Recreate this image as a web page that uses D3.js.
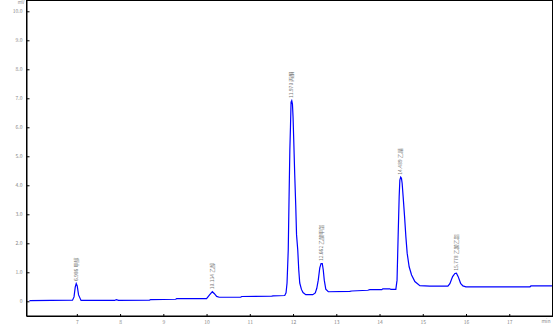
<!DOCTYPE html>
<html>
<head>
<meta charset="utf-8">
<script src="https://cdn.jsdelivr.net/npm/d3@7"></script>
<style>
  body { margin: 0; background: #fff; }
  text { font-family: "Noto Sans CJK SC", "DejaVu Sans", sans-serif; }
</style>
</head>
<body>
<svg width="555" height="328"></svg>
<script>
// retention time (min) and detector signal
const times = [5.905, 6.90, 6.935, 6.963, 6.986, 7.009, 7.04, 7.097, 7.873, 7.912, 7.965,
  8.683, 8.706, 9.285, 9.308, 10.0, 10.069, 10.134, 10.176, 10.234, 10.292, 10.789, 10.812,
  11.507, 11.542, 11.808, 11.838, 11.861, 11.889, 11.907, 11.926, 11.940, 11.954, 11.970,
  11.986, 12.0, 12.016, 12.039, 12.062, 12.081, 12.109, 12.132, 12.155, 12.194, 12.231,
  12.294, 12.456, 12.514, 12.549, 12.583, 12.618, 12.648, 12.676, 12.699, 12.722, 12.757,
  12.815, 13.313, 13.359, 13.729, 13.775, 14.053, 14.076, 14.238, 14.262, 14.377, 14.405,
  14.431, 14.454, 14.470, 14.489, 14.507, 14.523, 14.546, 14.579, 14.609, 14.639, 14.685,
  14.741, 14.817, 14.933, 15.164, 15.581, 15.627, 15.690, 15.743, 15.778, 15.819, 15.875,
  15.928, 15.998, 17.479, 17.502, 17.988];
const signal = [0.02, 0.04, 0.15, 0.49, 0.61, 0.53, 0.22, 0.03, 0.03, 0.055, 0.03,
  0.04, 0.06, 0.07, 0.09, 0.09, 0.22, 0.33, 0.27, 0.17, 0.14, 0.14, 0.165,
  0.18, 0.19, 0.20, 0.29, 0.63, 1.77, 3.49, 5.22, 5.98, 6.87, 6.92,
  6.80, 6.36, 5.56, 4.36, 3.32, 2.29, 1.77, 1.08, 0.63, 0.41, 0.30,
  0.23, 0.23, 0.29, 0.45, 0.73, 1.15, 1.30, 1.30, 1.08, 0.73, 0.42,
  0.33, 0.34, 0.355, 0.38, 0.40, 0.40, 0.43, 0.43, 0.41, 0.41, 0.73,
  2.29, 3.60, 4.18, 4.28, 4.24, 4.07, 3.61, 2.92, 2.23, 1.66, 1.19,
  0.91, 0.68, 0.54, 0.52, 0.52, 0.61, 0.85, 0.96, 0.97, 0.85, 0.62,
  0.53, 0.50, 0.50, 0.53, 0.53];

const peakTimes = [6.986, 10.134, 11.970, 12.662, 14.489, 15.778];
const peakHeights = [0.61, 0.33, 6.92, 1.30, 4.28, 0.97];
const peakNames = ["6.986 甲醇", "10.134 乙醇", "11.970 丙酮", "12.662 乙酸甲酯", "14.489 乙腈", "15.778 乙酸乙酯"];

const xTicks = [7, 8, 9, 10, 11, 12, 13, 14, 15, 16, 17];
const yTicks = [0, 1, 2, 3, 4, 5, 6, 7, 8, 9, 10];
const yTickLabels = ["0", "1.0", "2.0", "3.0", "4.0", "5.0", "6.0", "7.0", "8.0", "9.0", "10.0"];

const svg = d3.select("svg");
const mLeft = 26.5, mRight = 552.5, mTop = 0.5, mBottom = 316;

const x = d3.scaleLinear().domain([5.836, 18.0]).range([mLeft, mRight]);
const y = d3.scaleLinear().domain([-0.507, 10.372]).range([mBottom, mTop]);

// frame
svg.append("rect")
  .attr("x", mLeft).attr("y", mTop)
  .attr("width", mRight - mLeft).attr("height", mBottom - mTop)
  .attr("fill", "none").attr("stroke", "#000").attr("stroke-width", 1);

// axes with inward ticks
const xAxis = svg.append("g")
  .attr("transform", `translate(0,${mBottom})`)
  .call(d3.axisBottom(x).tickValues(xTicks).tickSizeInner(-2).tickSizeOuter(0).tickPadding(4));
const yAxis = svg.append("g")
  .attr("transform", `translate(${mLeft},0)`)
  .call(d3.axisLeft(y).tickValues(yTicks).tickFormat((d, i) => yTickLabels[i])
    .tickSizeInner(-3).tickSizeOuter(0).tickPadding(4));

[xAxis, yAxis].forEach(a => {
  a.select(".domain").attr("stroke", "#000");
  a.selectAll(".tick line").attr("stroke", "#000");
  a.selectAll("text").attr("fill", "#888").style("font-size", "5px");
});

svg.append("text").attr("x", 21).attr("y", 4)
  .attr("text-anchor", "middle").attr("fill", "#888").style("font-size", "4.5px").text("mV");
svg.append("text").attr("x", 546).attr("y", 322.5)
  .attr("text-anchor", "middle").attr("fill", "#888").style("font-size", "5px").text("min");

// chromatogram trace
const pts = times.map((t, i) => [t, signal[i]]);
svg.append("path")
  .datum(pts)
  .attr("fill", "none")
  .attr("stroke", "#0000ff")
  .attr("stroke-width", 1.2)
  .attr("d", d3.line().x(d => x(d[0])).y(d => y(d[1])));

// peak labels, rotated, reading upward
svg.selectAll(".plabel")
  .data(peakTimes)
  .join("text")
  .attr("class", "plabel")
  .attr("transform", (d, i) => `translate(${x(d) + 1.5},${y(peakHeights[i]) - 2.5}) rotate(-90)`)
  .attr("fill", "#777")
  .style("font-size", "5px")
  .text((d, i) => peakNames[i]);
</script>
</body>
</html>
